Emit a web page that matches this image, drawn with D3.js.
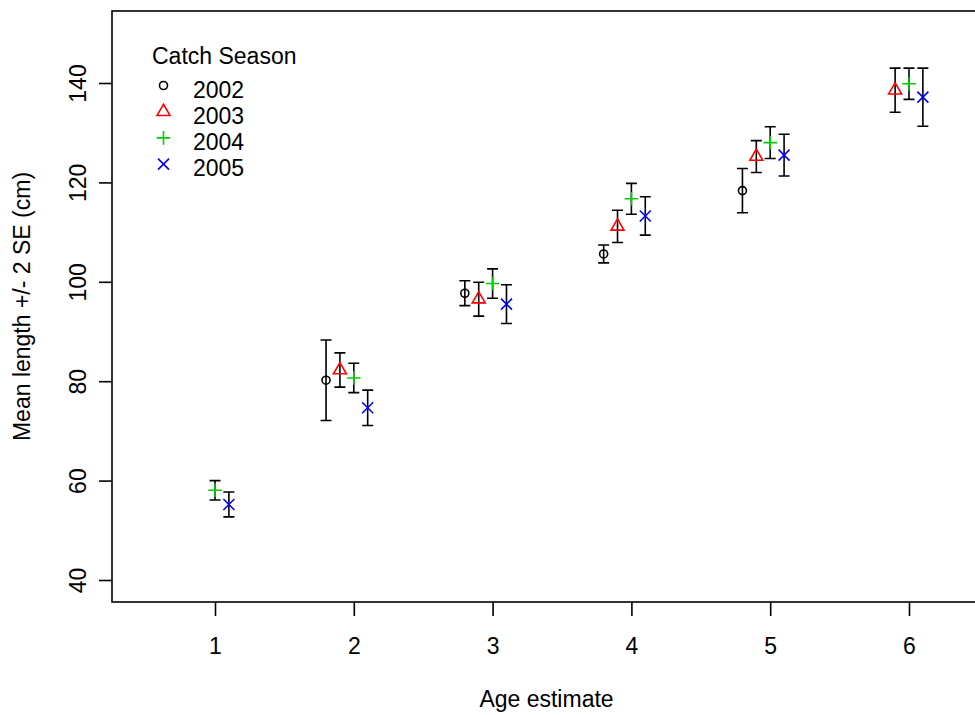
<!DOCTYPE html>
<meta charset="utf-8">
<style>
  body { margin: 0; background: #fff; }
  text { font-family: "Liberation Sans", Arial, sans-serif; fill: #000; }
</style>
<body>
  <div id="chart"></div>
</body>
<script src="https://cdn.jsdelivr.net/npm/d3@7"></script>
<script>
  // ages on the x axis, one series per catch season
  const ages = [1, 2, 3, 4, 5, 6];
  const seasons = ["2002", "2003", "2004", "2005"];
  const seasonColors = ["#000000", "#FF0000", "#00CD00", "#0000FF"];
  const seasonOffsets = [-0.2, -0.1, 0, 0.1];

  // mean length (cm) and 2 SE half-width, null where no fish
  const mean2002 = [null, 80.2, 97.7, 105.6, 118.35, null];
  const twoSe2002 = [null, 8.1, 2.5, 1.8, 4.45, null];
  const mean2003 = [null, 82.25, 96.5, 111.15, 125.2, 138.55];
  const twoSe2003 = [null, 3.45, 3.4, 3.25, 3.2, 4.45];
  const mean2004 = [58.05, 80.65, 99.65, 116.7, 128.0, 139.85];
  const twoSe2004 = [1.95, 2.95, 2.95, 3.1, 3.2, 3.15];
  const mean2005 = [55.2, 74.65, 95.5, 113.25, 125.5, 137.15];
  const twoSe2005 = [2.5, 3.55, 3.9, 3.85, 4.2, 5.85];

  const xTicks = [1, 2, 3, 4, 5, 6];
  const yTicks = [40, 60, 80, 100, 120, 140];

  const means = [mean2002, mean2003, mean2004, mean2005];
  const twoSes = [twoSe2002, twoSe2003, twoSe2004, twoSe2005];

  var width = 975, height = 715;
  var box = { left: 112, right: 981, top: 11, bottom: 602 };
  var fontSize = 23;
  var lw = 1.6;

  var x = d3.scaleLinear().domain([1, 6]).range([215, 909]);
  var y = d3.scaleLinear().domain([40, 140]).range([580, 83]);

  var svg = d3.select("#chart").append("svg")
    .attr("width", width)
    .attr("height", height)
    .style("display", "block");

  svg.append("rect").attr("width", width).attr("height", height).attr("fill", "#fff");

  // flatten into points
  var points = [];
  seasons.forEach(function(s, si) {
    ages.forEach(function(a, ai) {
      if (means[si][ai] == null) return;
      points.push({ season: si, age: a + seasonOffsets[si], mean: means[si][ai], se: twoSes[si][ai] });
    });
  });

  // plot box
  svg.append("rect")
    .attr("x", box.left).attr("y", box.top)
    .attr("width", box.right - box.left).attr("height", box.bottom - box.top)
    .attr("fill", "none").attr("stroke", "#000").attr("stroke-width", lw);

  // x axis
  var xAxis = svg.append("g")
    .attr("transform", "translate(0," + box.bottom + ")")
    .call(d3.axisBottom(x).tickValues(xTicks).tickFormat(d3.format("d")).tickSize(14).tickPadding(22));
  xAxis.select(".domain").remove();
  xAxis.selectAll("line").attr("stroke", "#000").attr("stroke-width", lw);
  xAxis.selectAll("text").attr("font-size", fontSize).attr("font-family", null);

  // y axis with rotated labels
  var yAxis = svg.append("g")
    .attr("transform", "translate(" + box.left + ",0)")
    .call(d3.axisLeft(y).tickValues(yTicks).tickSize(13));
  yAxis.select(".domain").remove();
  yAxis.selectAll("line").attr("stroke", "#000").attr("stroke-width", lw);
  yAxis.selectAll("text")
    .attr("font-size", fontSize).attr("font-family", null)
    .attr("x", null).attr("dy", null)
    .attr("text-anchor", "middle")
    .attr("transform", "translate(-26,0) rotate(-90)");

  // axis titles
  svg.append("text")
    .attr("x", (box.left + box.right) / 2).attr("y", 707)
    .attr("text-anchor", "middle").attr("font-size", fontSize)
    .text("Age estimate");
  svg.append("text")
    .attr("transform", "translate(30," + (box.top + box.bottom) / 2 + ") rotate(-90)")
    .attr("text-anchor", "middle").attr("font-size", fontSize)
    .text("Mean length +/- 2 SE (cm)");

  // error bars
  var cap = 5.5;
  var bars = svg.append("g").attr("stroke", "#000").attr("stroke-width", lw).attr("fill", "none");
  bars.selectAll("path")
    .data(points)
    .enter().append("path")
    .attr("d", function(d) {
      var cx = x(d.age), y0 = y(d.mean - d.se), y1 = y(d.mean + d.se);
      return "M" + cx + "," + y0 + "V" + y1 +
        "M" + (cx - cap) + "," + y1 + "H" + (cx + cap) +
        "M" + (cx - cap) + "," + y0 + "H" + (cx + cap);
    });

  // R-like point symbols: circle, triangle, plus, cross
  var xc = 4.8;
  function drawSymbol(g, si, cx, cy) {
    var col = seasonColors[si];
    if (si === 0) {
      g.append("circle").attr("cx", cx).attr("cy", cy).attr("r", 4)
        .attr("fill", "none").attr("stroke", col).attr("stroke-width", lw);
    } else if (si === 1) {
      var r = 1.555 * xc, hw = 1.347 * xc, yc = 0.777 * xc;
      g.append("path")
        .attr("d", "M" + cx + "," + (cy - r) + "L" + (cx + hw) + "," + (cy + yc) + "L" + (cx - hw) + "," + (cy + yc) + "Z")
        .attr("fill", "none").attr("stroke", col).attr("stroke-width", lw);
    } else if (si === 2) {
      var h = 1.414 * xc;
      g.append("path")
        .attr("d", "M" + (cx - h) + "," + cy + "H" + (cx + h) + "M" + cx + "," + (cy - h) + "V" + (cy + h))
        .attr("fill", "none").attr("stroke", col).attr("stroke-width", lw);
    } else {
      var k = 5.5;
      g.append("path")
        .attr("d", "M" + (cx - k) + "," + (cy - k) + "L" + (cx + k) + "," + (cy + k) +
          "M" + (cx - k) + "," + (cy + k) + "L" + (cx + k) + "," + (cy - k))
        .attr("fill", "none").attr("stroke", col).attr("stroke-width", lw);
    }
  }

  var marks = svg.append("g");
  points.forEach(function(d) {
    drawSymbol(marks, d.season, x(d.age), y(d.mean));
  });

  // legend
  var legend = svg.append("g");
  legend.append("text")
    .attr("x", 152).attr("y", 64)
    .attr("font-size", fontSize)
    .text("Catch Season");
  seasons.forEach(function(s, si) {
    var base = 97.5 + si * 26.2;
    drawSymbol(legend, si, 163.5, base - 12);
    legend.append("text")
      .attr("x", 193).attr("y", base)
      .attr("font-size", fontSize)
      .text(s);
  });
</script>
